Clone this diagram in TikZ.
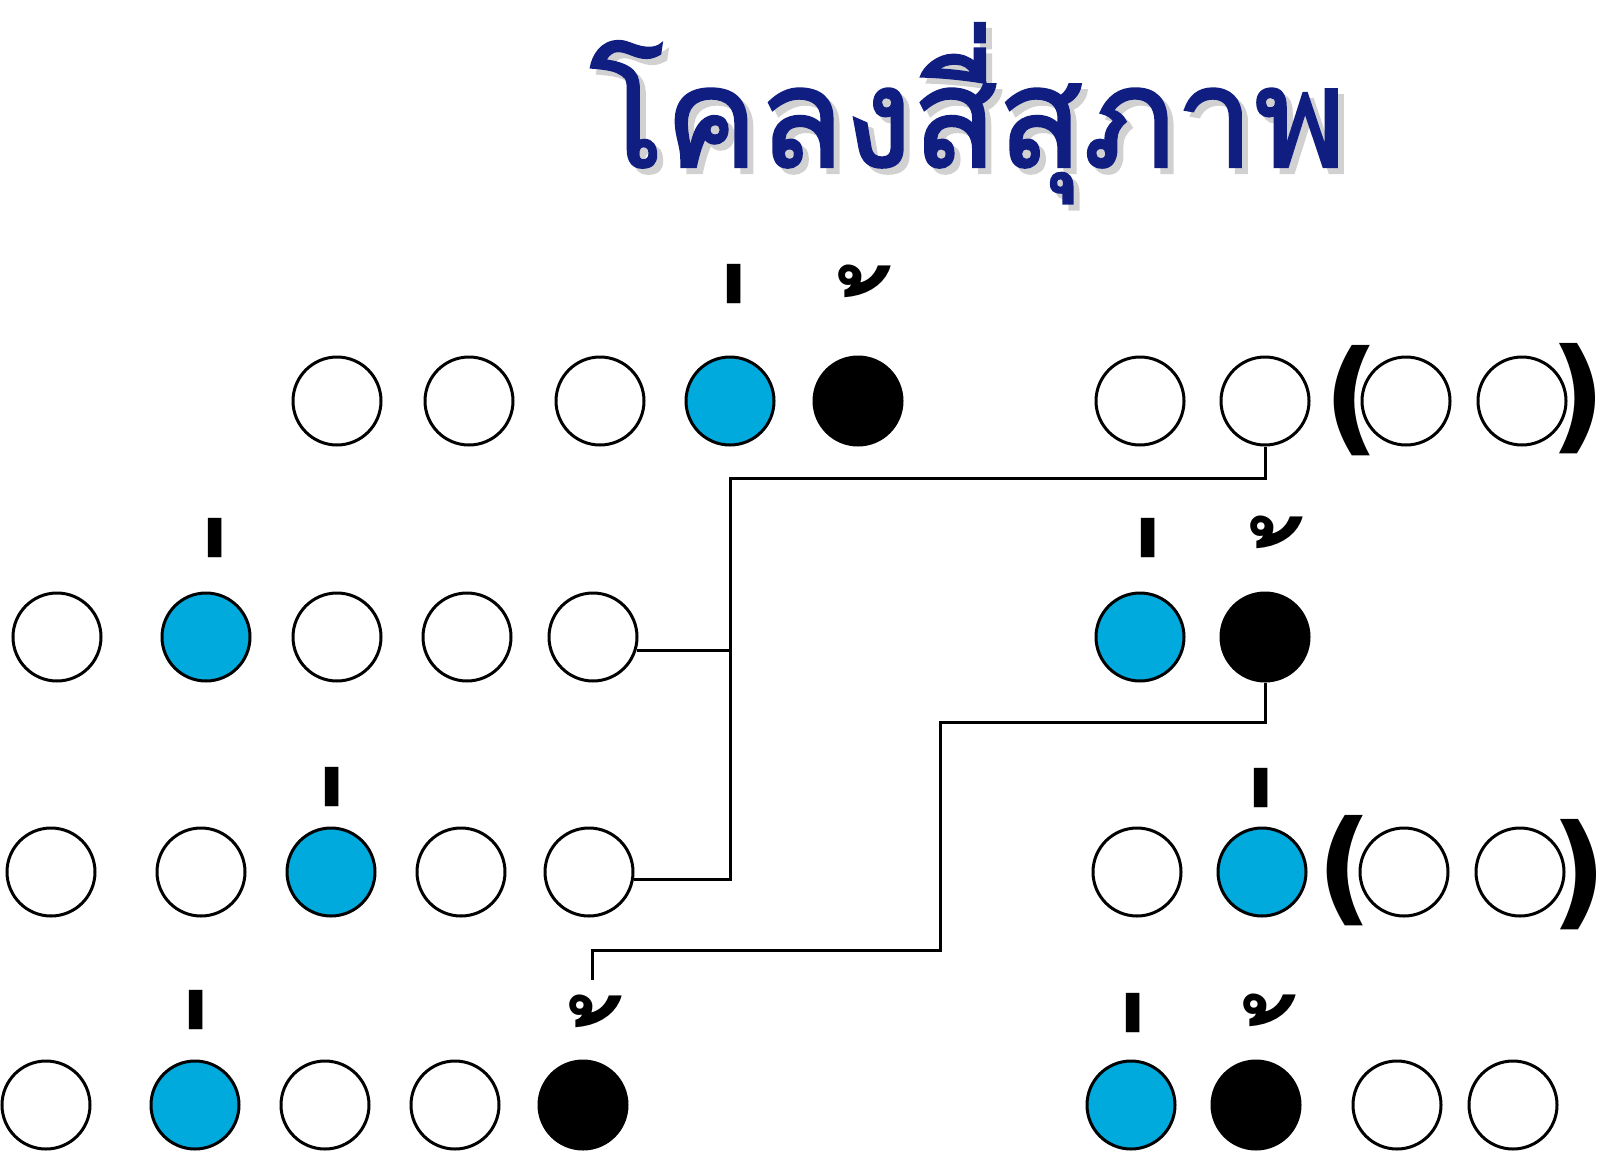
\documentclass[tikz,border=0pt]{standalone}
\usepackage{fontspec}
\usepackage{graphicx}
\newfontfamily\thaifont[Script=Thai]{Loma}
\newfontfamily\thaititle[Script=Thai,FakeBold=1.6]{Loma}
\newfontfamily\parfont{DejaVu Sans}
\definecolor{navy}{RGB}{16,30,130}
\definecolor{cyanfill}{RGB}{0,170,220}
\begin{document}
\begin{tikzpicture}[x=0.5pt,y=-0.5pt,
  dot/.style={circle, draw=black, line width=1.5pt, minimum size=44pt, inner sep=0pt, fill=white},
  bluedot/.style={dot, fill=cyanfill},
  blackdot/.style={dot, fill=black},
  maiek/.style={font=\thaifont\bfseries\fontsize{80pt}{80pt}\selectfont, inner sep=0pt, xshift=9pt, yshift=-65.5pt},
  maitho/.style={font=\thaifont\bfseries\fontsize{72pt}{72pt}\selectfont, inner sep=0pt, xshift=10.5pt, yshift=-30pt},
  paren/.style={font=\parfont\bfseries\fontsize{62pt}{62pt}\selectfont, inner sep=0pt},
  titlefont/.style={font=\thaititle\fontsize{70pt}{70pt}\selectfont, inner sep=0pt, anchor=base},
  conn/.style={line width=1.5pt}]
\useasboundingbox (0,0) rectangle (1600,1151);
% title
\node[titlefont, text=black!18] (titleshadow) at (974,173) {โคลงสี่สุภาพ};
\node[titlefont, text=navy] (title) at (968,167) {โคลงสี่สุภาพ};
% row 1
\node[dot] (a1) at (337,401) {};
\node[dot] (a2) at (469,401) {};
\node[dot] (a3) at (600,401) {};
\node[bluedot] (a4) at (730,401) {};
\node[blackdot] (a5) at (858,401) {};
\node[dot] (a6) at (1140,401) {};
\node[dot] (a7) at (1265,401) {};
\node[dot] (a8) at (1406,401) {};
\node[dot] (a9) at (1522,401) {};
\node[paren] (p1) at (1352,401) {(};
\node[paren] (p2) at (1578,399) {)};
% row 2
\node[dot] (b1) at (57,637) {};
\node[bluedot] (b2) at (206,637) {};
\node[dot] (b3) at (337,637) {};
\node[dot] (b4) at (467,637) {};
\node[dot] (b5) at (593,637) {};
\node[bluedot] (b6) at (1140,637) {};
\node[blackdot] (b7) at (1265,637) {};
% row 3
\node[dot] (c1) at (51,872) {};
\node[dot] (c2) at (201,872) {};
\node[bluedot] (c3) at (331,872) {};
\node[dot] (c4) at (461,872) {};
\node[dot] (c5) at (589,872) {};
\node[dot] (c6) at (1137,872) {};
\node[bluedot] (c7) at (1262,872) {};
\node[dot] (c8) at (1404,872) {};
\node[dot] (c9) at (1520,872) {};
\node[paren] (p3) at (1345,871) {(};
\node[paren] (p4) at (1579,875) {)};
% row 4
\node[dot] (d1) at (46,1105) {};
\node[bluedot] (d2) at (195,1105) {};
\node[dot] (d3) at (325,1105) {};
\node[dot] (d4) at (455,1105) {};
\node[blackdot] (d5) at (583,1105) {};
\node[bluedot] (d6) at (1131,1105) {};
\node[blackdot] (d7) at (1256,1105) {};
\node[dot] (d8) at (1397,1105) {};
\node[dot] (d9) at (1513,1105) {};
% tone marks
\node[maiek] (m1) at (731,281) {\scalebox{0.75}[1.8]{่}};
\node[maitho] (m2) at (865,281) {้};
\node[maiek] (m3) at (212,535) {\scalebox{0.75}[1.8]{่}};
\node[maiek] (m4) at (1145,535) {\scalebox{0.75}[1.8]{่}};
\node[maitho] (m5) at (1277,532) {้};
\node[maiek] (m6) at (329,784) {\scalebox{0.75}[1.8]{่}};
\node[maiek] (m7) at (1258,785) {\scalebox{0.75}[1.8]{่}};
\node[maiek] (m8) at (193,1007) {\scalebox{0.75}[1.8]{่}};
\node[maitho] (m9) at (596,1011) {้};
\node[maiek] (m10) at (1130,1010) {\scalebox{0.75}[1.8]{่}};
\node[maitho] (m11) at (1270,1010) {้};
% connectors
\coordinate (j1) at (730,478);
\coordinate (j2) at (j1 |- c5.-10);
\draw[conn] (a7.south) |- (j1) -- (j2) -- (c5.-10);
\draw[conn] (b5.-17) -- (j1 |- b5.-17);
\coordinate (k1) at (940,722);
\coordinate (k2) at (940,950);
\coordinate (k3) at (592,950);
\coordinate (k4) at (592,980);
\draw[conn] (b7.south) |- (k1) -- (k2) -- (k3) -- (k4);
\end{tikzpicture}
\end{document}
